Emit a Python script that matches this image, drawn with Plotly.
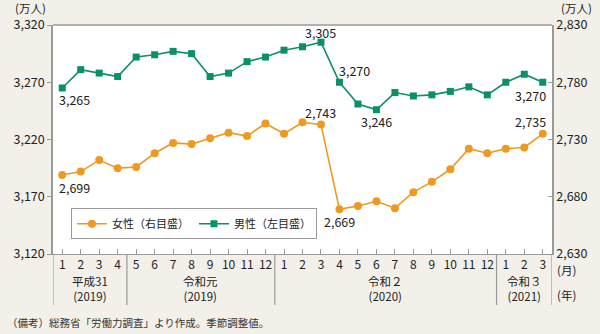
import plotly.graph_objects as go

# Monthly labour force, Jan 2019 – Mar 2021 (10k persons, seasonally adjusted)
months = [1, 2, 3, 4, 5, 6, 7, 8, 9, 10, 11, 12,
          1, 2, 3, 4, 5, 6, 7, 8, 9, 10, 11, 12,
          1, 2, 3]
male = [3265, 3281, 3278, 3275, 3292, 3294, 3297, 3295, 3275, 3278, 3288, 3292,
        3298, 3301, 3305, 3270, 3251, 3246, 3261, 3258, 3259, 3262, 3266, 3259,
        3270, 3277, 3270]
female = [2699, 2702, 2712, 2705, 2706, 2718, 2727, 2726, 2731, 2736, 2733, 2744,
          2735, 2745, 2743, 2669, 2672, 2676, 2670, 2684, 2693, 2704, 2722, 2718,
          2722, 2723, 2735]
eras = [("平成31", "(2019)", 0, 3), ("令和元", "(2019)", 4, 11),
        ("令和２", "(2020)", 12, 23), ("令和３", "(2021)", 24, 26)]

x = list(range(len(months)))
FONT = "Noto Sans CJK JP"
GREEN = "#0a9068"
ORANGE = "#ee9a22"
GRID = "#9a9a9a"
TXT = "#222222"

fig = go.Figure()
fig.add_trace(go.Scatter(
    x=x, y=female, name="女性（右目盛）", yaxis="y2", mode="lines+markers",
    line=dict(color=ORANGE, width=1.6),
    marker=dict(symbol="circle", size=8, color=ORANGE)))
fig.add_trace(go.Scatter(
    x=x, y=male, name="男性（左目盛）", yaxis="y", mode="lines+markers",
    line=dict(color=GREEN, width=1.6),
    marker=dict(symbol="square", size=7, color=GREEN)))

ann = []
# value labels: (series, yref, index, xshift, yshift)
for series, yref, i, dx, dy in [
        (male, "y", 0, 12, -12), (male, "y", 14, 0, 10), (male, "y", 15, 15, 12),
        (male, "y", 17, 0, -12), (male, "y", 26, -12, -13),
        (female, "y2", 0, 12, -13), (female, "y2", 14, 0, 12),
        (female, "y2", 15, 0, -12), (female, "y2", 26, -12, 12)]:
    ann.append(dict(x=i, y=series[i], xref="x", yref=yref, text=f"{series[i]:,}",
                    showarrow=False, xshift=dx, yshift=dy,
                    xanchor="center", yanchor="middle",
                    font=dict(size=12.5, color=TXT, family=FONT)))

shapes = []
for name, yr, a, b in eras:
    c = (a + b) / 2
    ann.append(dict(x=c, y=0, xref="x", yref="paper", text=f"{name}<br>{yr}",
                    showarrow=False, yshift=-34, xanchor="center", yanchor="middle",
                    font=dict(size=11.5, color=TXT, family=FONT)))
    shapes.append(dict(type="line", xref="x", yref="paper", x0=a - 0.5, x1=a - 0.5,
                       y0=-0.223, y1=0, line=dict(color=GRID, width=1.2)))
shapes.append(dict(type="line", xref="x", yref="paper", x0=26.5, x1=26.5,
                   y0=-0.223, y1=0, line=dict(color=GRID, width=1.2)))
# frame top edge
shapes.append(dict(type="line", xref="paper", yref="paper", x0=0, x1=1, y0=1, y1=1,
                   line=dict(color=GRID, width=1.5)))

for t, xx, yy in [("(万人)", 30, 8), ("(万人)", 576, 8),
                  ("(月)", 566, 270), ("(年)", 566, 295)]:
    ann.append(dict(x=(xx - 53) / 499, y=(254 - yy) / 229, xref="paper", yref="paper",
                    text=t, showarrow=False, xanchor="center", yanchor="middle",
                    font=dict(size=11.5, color=TXT, family=FONT)))
ann.append(dict(x=-48 / 499, y=(254 - 322) / 229, xref="paper", yref="paper",
                text="（備考）総務省「労働力調査」より作成。季節調整値。", showarrow=False,
                xanchor="left", yanchor="middle",
                font=dict(size=10.5, color="#333333", family=FONT)))

fig.update_layout(
    width=600, height=334,
    margin=dict(l=53, r=48, t=25, b=80),
    paper_bgcolor="#f3f0e9", plot_bgcolor="#ffffff",
    font=dict(family=FONT, color=TXT, size=12),
    showlegend=True,
    legend=dict(orientation="h", x=0.036, y=0.2, xanchor="left", yanchor="top",
                bgcolor="#ffffff", bordercolor=GRID, borderwidth=1,
                font=dict(size=11, family=FONT, color=TXT),
                itemwidth=30, tracegroupgap=0),
    xaxis=dict(range=[-0.5, 26.5], tickmode="array", tickvals=x,
               ticktext=[str(m) for m in months], showgrid=False, zeroline=False,
               showline=True, linecolor=GRID, linewidth=1, ticks="inside", ticklen=5,
               tickcolor=GRID, tickfont=dict(size=12, color=TXT)),
    yaxis=dict(range=[3120, 3320], tick0=3120, dtick=50, tickformat=",",
               showgrid=False, zeroline=False, showline=True, linecolor=GRID,
               linewidth=1.5, ticks="outside", ticklen=4, tickcolor=GRID,
               tickfont=dict(size=12.5, color=TXT)),
    yaxis2=dict(range=[2630, 2830], tick0=2630, dtick=50, tickformat=",",
                overlaying="y", side="right", showgrid=False, zeroline=False,
                showline=True, linecolor=GRID, linewidth=1.5, ticks="inside",
                ticklen=4, tickcolor=GRID, tickfont=dict(size=12.5, color=TXT)),
    annotations=ann, shapes=shapes,
)

fig.write_html("out.html")
